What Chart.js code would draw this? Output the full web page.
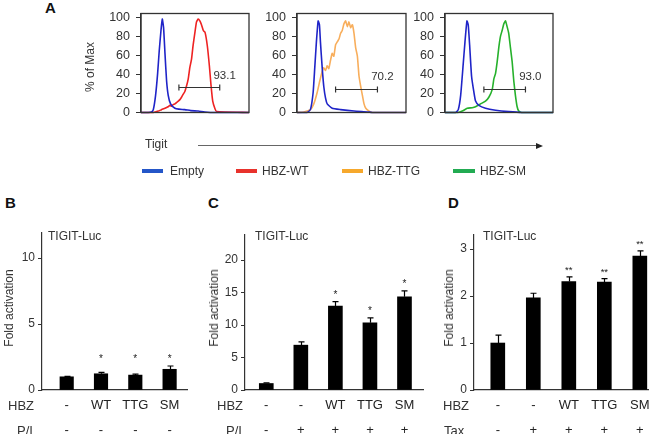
<!DOCTYPE html>
<html><head><meta charset="utf-8">
<script src="https://cdn.jsdelivr.net/npm/chart.js@4.4.1/dist/chart.umd.min.js"></script>
<style>
html,body{margin:0;padding:0;background:#fff;}
body{width:658px;height:434px;position:relative;overflow:hidden;font-family:"Liberation Sans",Arial,sans-serif;color:#333;}
canvas{position:absolute;}
.t{position:absolute;white-space:nowrap;line-height:1;}
.b{font-weight:bold;color:#111;font-size:15px;}
.rot{position:absolute;white-space:nowrap;line-height:1;font-size:12px;transform:translate(-50%,-50%) rotate(-90deg);}
.lg{position:absolute;height:4px;}
</style></head><body>
<canvas id="h1"></canvas><canvas id="h2"></canvas><canvas id="h3"></canvas>
<canvas id="cb"></canvas><canvas id="cc"></canvas><canvas id="cd"></canvas>

<div class="t b" style="left:45px;top:0px;">A</div>
<div class="t b" style="left:5px;top:195px;">B</div>
<div class="t b" style="left:208px;top:195px;">C</div>
<div class="t b" style="left:448px;top:195px;">D</div>
<div class="rot" style="left:90px;top:67px;">% of Max</div>
<div class="t" style="left:145px;top:138px;font-size:12px;">Tigit</div>
<div style="position:absolute;left:198px;top:145px;width:338px;height:1px;background:#666;"></div>
<div style="position:absolute;left:536px;top:142.5px;width:0;height:0;border-top:3px solid transparent;border-bottom:3px solid transparent;border-left:7px solid #222;"></div>

<div class="lg" style="left:142px;top:169px;width:21px;background:#2456c8;"></div>
<div class="t" style="left:170px;top:165px;font-size:12px;">Empty</div>
<div class="lg" style="left:236px;top:169px;width:21px;background:#e8322c;"></div>
<div class="t" style="left:262px;top:165px;font-size:12px;">HBZ-WT</div>
<div class="lg" style="left:342px;top:169px;width:21px;background:#f6a82c;"></div>
<div class="t" style="left:368px;top:165px;font-size:12px;">HBZ-TTG</div>
<div class="lg" style="left:453px;top:169px;width:22px;background:#22ab52;"></div>
<div class="t" style="left:480px;top:165px;font-size:12px;">HBZ-SM</div>

<div class="rot" style="left:8.5px;top:308px;">Fold activation</div>
<div class="rot" style="left:213.5px;top:308px;">Fold activation</div>
<div class="rot" style="left:448.5px;top:308px;">Fold activation</div>
<div class="t" style="left:48px;top:229.5px;font-size:12px;">TIGIT-Luc</div>
<div class="t" style="left:255px;top:229.5px;font-size:12px;">TIGIT-Luc</div>
<div class="t" style="left:483px;top:229.5px;font-size:12px;">TIGIT-Luc</div>

<div class="t" style="left:8px;top:399px;font-size:13px;">HBZ</div>
<div class="t" style="left:17px;top:424px;font-size:13px;">P/I</div>
<div class="t" style="left:217px;top:399px;font-size:13px;">HBZ</div>
<div class="t" style="left:226px;top:424px;font-size:13px;">P/I</div>
<div class="t" style="left:443px;top:399px;font-size:13px;">HBZ</div>
<div class="t" style="left:444px;top:424px;font-size:13px;">Tax</div>

<script>
// ---------------- DATA ----------------
// Panel A: flow histograms (Tigit, % of Max)
const histSeries = ['Empty', 'HBZ-WT', 'HBZ-TTG', 'HBZ-SM'];
const histYTicks = [0, 20, 40, 60, 80, 100];

const h1EmptyX = [0, 6.8, 9.8, 11.4, 13.5, 15.4, 16.9, 18.5, 19.7, 20.9, 22.2, 23.7, 25.2, 27.4, 31.4, 35, 40.6, 46, 52.9, 59, 68.3, 100];
const h1EmptyY = [0, 0, 0.5, 3, 18, 41, 65, 86, 98, 89, 62, 33, 18, 9, 4.5, 3.5, 3, 2, 1.5, 0.6, 0, 0];
const h1WtX = [0, 11.4, 16, 19, 22.2, 25, 26.8, 28.3, 29.5, 31.4, 33, 34.5, 36, 37.5, 39, 40.6, 42.2, 43.7, 45.2, 46.8, 48.3, 49.8, 51.4, 52.9, 54.5, 56, 57.7, 59.3, 61.4, 63.3, 64.8, 66.4, 68.5, 70, 100];
const h1WtY = [0, 0, 1.5, 3, 4.4, 6, 7.5, 6.5, 8, 9, 10.5, 12, 13.5, 16, 19, 22, 28, 35, 47, 56, 71, 83, 95, 98, 96, 92, 86, 84, 70, 49, 29, 12, 4, 1, 0];

const h2EmptyX = [0, 9.2, 12.3, 14.8, 16.3, 17.8, 19.4, 20.6, 21.5, 23.1, 24.6, 26.2, 27.7, 32.3, 40, 52.3, 64.6, 69.2, 100];
const h2EmptyY = [0, 0, 3, 21, 47, 74, 96, 92, 74, 47, 27, 15, 9, 4.4, 3, 1.5, 0.6, 0, 0];
const h2TtgX = [0, 6.2, 12.3, 15.4, 18.5, 20.9, 23.1, 24.6, 26.2, 27.7, 29.2, 30.8, 32.3, 33.8, 35.4, 36.9, 38.5, 40, 41.5, 43.1, 44.6, 46.2, 47.7, 49.2, 50.8, 52.3, 53.8, 55.4, 56.9, 58.5, 60, 61.5, 63.1, 66.2, 69.2, 100];
const h2TtgY = [0, 0.6, 3, 9, 21, 33, 43, 47, 44, 49, 46, 55, 62, 59, 71, 74, 77, 83, 86, 93, 96, 90, 95, 89, 92, 83, 68, 59, 38, 27, 18, 9, 4.4, 1.5, 0, 0];

const h3EmptyX = [0, 9.8, 12.3, 14.5, 16.6, 18.5, 20.3, 21.5, 22.8, 24.6, 26.8, 28.3, 31.4, 37.5, 46.8, 59, 71.4, 100];
const h3EmptyY = [0, 0, 3, 18, 47, 74, 96, 92, 71, 38, 21, 12, 7.4, 4.4, 2.4, 0.9, 0, 0];
const h3SmX = [0, 12, 16, 20.6, 25.2, 28.3, 32.9, 37.5, 40.6, 43.7, 45.2, 46.8, 48.3, 49.8, 51.4, 52.9, 54.5, 56, 57.5, 59, 60.6, 62.2, 63.7, 65.2, 66.8, 68.3, 70.8, 100];
const h3SmY = [0, 0, 1.5, 4.4, 5, 6, 9, 12, 16, 24, 35, 41, 53, 68, 80, 86, 93, 96, 90, 83, 68, 53, 33, 18, 6, 1.5, 0, 0];

const gateStart = [35.1, 35.4, 36.0];
const gateEnd = [72.9, 73.8, 74.5];
const gateLevel = [26.6, 25, 25];
const gateLabels = ['93.1', '70.2', '93.0'];

// Panel B
const bHbz = ['-', 'WT', 'TTG', 'SM'];
const bPI = ['-', '-', '-', '-'];
const bValues = [1.0, 1.23, 1.13, 1.57];
const bErrors = [0.03, 0.1, 0.08, 0.25];
const bStars = ['', '*', '*', '*'];
const bYTicks = [0, 5, 10];

// Panel C
const cHbz = ['-', '-', 'WT', 'TTG', 'SM'];
const cPI = ['-', '+', '+', '+', '+'];
const cValues = [1.0, 6.9, 12.9, 10.35, 14.35];
const cErrors = [0.1, 0.5, 0.7, 0.75, 0.9];
const cStars = ['', '', '*', '*', '*'];
const cYTicks = [0, 5, 10, 15, 20];

// Panel D
const dHbz = ['-', '-', 'WT', 'TTG', 'SM'];
const dTax = ['-', '+', '+', '+', '+'];
const dValues = [1.0, 1.96, 2.31, 2.30, 2.85];
const dErrors = [0.17, 0.1, 0.1, 0.07, 0.11];
const dStars = ['', '', '**', '**', '**'];
const dYTicks = [0, 1, 2, 3];

// ---------------- STYLE / LAYOUT ----------------
const FONT = '"Liberation Sans", Arial, sans-serif';
Chart.defaults.font.family = FONT;
const COL_EMPTY = '#1f24c8';
const COL_SERIES = ['#ee2222', '#f8ae5c', '#26b12c'];

function zip(xs, ys) { return xs.map((x, i) => ({ x: x, y: ys[i] })); }

function setupCanvas(id, box) {
  const c = document.getElementById(id);
  c.width = box.r - box.l; c.height = box.b - box.t;
  c.style.left = box.l + 'px'; c.style.top = box.t + 'px';
  c.style.width = c.width + 'px'; c.style.height = c.height + 'px';
  return c;
}

const histDeco = {
  id: 'histDeco',
  afterDatasetsDraw(chart, args, opts) {
    const { ctx, chartArea: a, scales: { x, y } } = chart;
    const i = opts.index;
    ctx.save();
    ctx.strokeStyle = '#333'; ctx.lineWidth = 1.3;
    ctx.strokeRect(a.left, a.top, a.right - a.left, a.bottom - a.top);
    const gy = Math.round(y.getPixelForValue(gateLevel[i])) + 0.5;
    const gx0 = x.getPixelForValue(gateStart[i]), gx1 = x.getPixelForValue(gateEnd[i]);
    ctx.strokeStyle = '#333'; ctx.lineWidth = 1.2;
    ctx.beginPath();
    ctx.moveTo(gx0, gy); ctx.lineTo(gx1, gy);
    ctx.moveTo(gx0, gy - 3); ctx.lineTo(gx0, gy + 3);
    ctx.moveTo(gx1, gy - 3); ctx.lineTo(gx1, gy + 3);
    ctx.stroke();
    ctx.fillStyle = '#333'; ctx.font = '11.5px ' + FONT;
    ctx.textAlign = 'center'; ctx.textBaseline = 'middle';
    ctx.fillText(gateLabels[i], x.getPixelForValue(gateEnd[i] + 4.5), y.getPixelForValue(gateLevel[i] + 12));
    ctx.restore();
  }
};

function histChart(id, box, area, ex, ey, sx, sy, idx) {
  const c = setupCanvas(id, box);
  const W = area.l - box.l;
  new Chart(c, {
    type: 'line',
    data: {
      datasets: [
        { label: histSeries[0], data: zip(ex, ey), borderColor: COL_EMPTY, borderWidth: 1.6, pointRadius: 0, tension: 0.15, clip: 3 },
        { label: histSeries[idx + 1], data: zip(sx, sy), borderColor: COL_SERIES[idx], borderWidth: 1.6, pointRadius: 0, tension: 0.15, clip: 3 }
      ]
    },
    options: {
      responsive: false, animation: false, devicePixelRatio: 1,
      layout: { padding: { left: 0, top: area.t - box.t, right: box.r - area.r, bottom: box.b - area.b } },
      plugins: { legend: { display: false }, tooltip: { enabled: false }, histDeco: { index: idx } },
      scales: {
        x: { type: 'linear', min: 0, max: 100, display: false },
        y: {
          type: 'linear', min: 0, max: 103.8,
          afterBuildTicks: s => { s.ticks = histYTicks.map(v => ({ value: v })); },
          afterFit: s => { s.width = W; },
          ticks: { font: { size: 12.5 }, color: '#333', padding: 6 },
          grid: { display: true, drawOnChartArea: false, drawTicks: true, tickLength: 5, color: '#333' },
          border: { display: true, color: '#333', width: 1.3 }
        }
      }
    },
    plugins: [histDeco]
  });
}

const barDeco = {
  id: 'barDeco',
  afterDatasetsDraw(chart, args, o) {
    const { ctx, chartArea: a, scales: { x, y } } = chart;
    ctx.save();
    // error bars
    ctx.strokeStyle = '#000'; ctx.lineWidth = 1.2;
    const tops = o.values.map((v, i) => y.getPixelForValue(v + o.errors[i]));
    o.values.forEach((v, i) => {
      const px = Math.round(x.getPixelForValue(i)) + 0.5;
      const y0 = y.getPixelForValue(v), y1 = tops[i];
      ctx.beginPath();
      ctx.moveTo(px, y0); ctx.lineTo(px, y1);
      ctx.moveTo(px - 3, y1); ctx.lineTo(px + 3, y1);
      ctx.stroke();
    });
    // stars
    ctx.fillStyle = '#222'; ctx.font = o.starSize + 'px ' + FONT;
    ctx.textAlign = 'center'; ctx.textBaseline = 'alphabetic';
    let level = Infinity;
    o.stars.forEach((s, i) => { if (s) level = Math.min(level, tops[i]); });
    o.stars.forEach((s, i) => {
      if (!s) return;
      const cy = (o.alignStars ? level : tops[i]) - o.starGap;
      ctx.fillText(s, x.getPixelForValue(i), cy + o.starSize * 0.57);
    });
    // row labels
    ctx.font = '13px ' + FONT; ctx.textBaseline = 'middle'; ctx.fillStyle = '#222';
    o.rows.forEach((row, r) => {
      row.forEach((lab, i) => {
        ctx.fillText(lab, x.getPixelForValue(i), a.bottom + o.rowOffsets[r]);
      });
    });
    ctx.restore();
  }
};

function barChart(id, box, area, values, errors, stars, rows, yTicks, yMax, xMin, xMax, barW, alignStars, starSize) {
  const c = setupCanvas(id, box);
  const W = area.l - box.l;
  new Chart(c, {
    type: 'bar',
    data: { datasets: [{ data: values.map((v, i) => ({ x: i, y: v })), backgroundColor: '#000', borderWidth: 0, barThickness: barW }] },
    options: {
      responsive: false, animation: false, devicePixelRatio: 1,
      layout: { padding: { left: 0, top: area.t - box.t, right: box.r - area.r, bottom: box.b - area.b } },
      plugins: {
        legend: { display: false }, tooltip: { enabled: false },
        barDeco: { values, errors, stars, rows, rowOffsets: [15, 40], alignStars, starGap: 9.5, starSize }
      },
      scales: {
        x: {
          type: 'linear', min: xMin, max: xMax, offset: false,
          ticks: { display: false }, grid: { display: false },
          border: { display: true, color: '#333', width: 1.2 },
          afterFit: s => { s.height = 0; }
        },
        y: {
          type: 'linear', min: 0, max: yMax,
          afterBuildTicks: s => { s.ticks = yTicks.map(v => ({ value: v })); },
          afterFit: s => { s.width = W; },
          ticks: { font: { size: 12 }, color: '#333', padding: 3 },
          grid: { display: true, drawOnChartArea: false, drawTicks: true, tickLength: 4, color: '#333' },
          border: { display: true, color: '#333', width: 1.2 }
        }
      }
    },
    plugins: [barDeco]
  });
}

histChart('h1', { l: 80, t: 0, r: 252, b: 126 }, { l: 141, t: 5, r: 249, b: 122 }, h1EmptyX, h1EmptyY, h1WtX, h1WtY, 0);
histChart('h2', { l: 255, t: 0, r: 409, b: 126 }, { l: 297, t: 5, r: 406, b: 122 }, h2EmptyX, h2EmptyY, h2TtgX, h2TtgY, 1);
histChart('h3', { l: 410, t: 0, r: 556, b: 126 }, { l: 445, t: 5, r: 553, b: 122 }, h3EmptyX, h3EmptyY, h3SmX, h3SmY, 2);

barChart('cb', { l: 0, t: 220, r: 200, b: 434 }, { l: 42, t: 233, r: 187, b: 390 }, bValues, bErrors, bStars, [bHbz, bPI], bYTicks, 11.9, -0.72, 3.507, 13.5, true, 10);
barChart('cc', { l: 205, t: 220, r: 432, b: 434 }, { l: 245, t: 235, r: 423, b: 390 }, cValues, cErrors, cStars, [cHbz, cPI], cYTicks, 23.85, -0.616, 4.536, 14, false, 10);
barChart('cd', { l: 438, t: 220, r: 658, b: 434 }, { l: 474, t: 235, r: 648, b: 390 }, dValues, dErrors, dStars, [dHbz, dTax], dYTicks, 3.3, -0.67, 4.23, 14, false, 9.5);
</script>
</body></html>
